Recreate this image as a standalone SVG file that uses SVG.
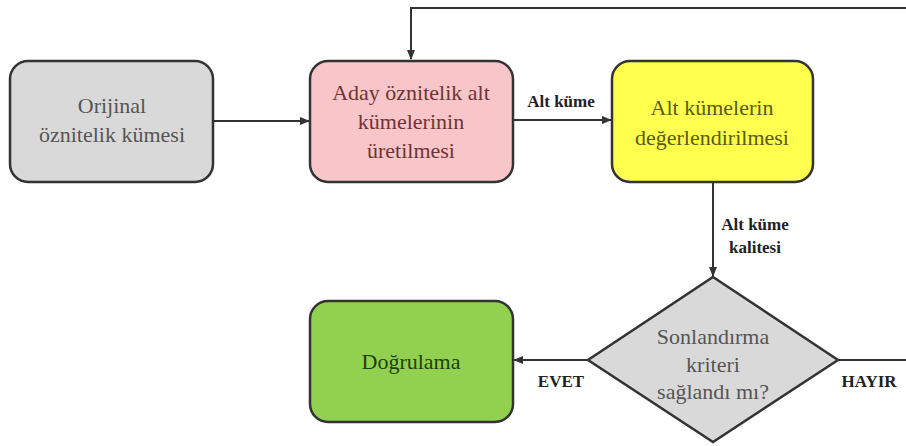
<svg xmlns="http://www.w3.org/2000/svg" width="906" height="446" viewBox="0 0 906 446">
<style>
.box{stroke:#333;stroke-width:2.5}
.t{font-family:'Liberation Serif','Times New Roman','DejaVu Serif',serif;font-size:22px;text-anchor:middle}
.lbl{font-family:'Liberation Serif','Times New Roman','DejaVu Serif',serif;font-size:17px;font-weight:bold;fill:#222;text-anchor:middle}
.c{fill:none;stroke:#333;stroke-width:2}
</style>
<defs>
<marker id="ah" viewBox="0 0 10 10" refX="9" refY="5" markerWidth="5" markerHeight="5" orient="auto">
<path d="M0,1 L10,5 L0,9 z" fill="#333"/>
</marker>
</defs>
<rect width="906" height="446" fill="#fff"/>
<g id="connectors">
<path class="c" d="M213,121 H309" marker-end="url(#ah)"/>
<path class="c" d="M513,120 H611" marker-end="url(#ah)"/>
<path class="c" d="M713,182 V276" marker-end="url(#ah)"/>
<path class="c" d="M588,360 H514" marker-end="url(#ah)"/>
<path class="c" d="M838,360 H912 V8 H411 V59" marker-end="url(#ah)"/>
<text class="lbl" x="561" y="107">Alt küme</text>
<text class="lbl" x="755" y="230">Alt küme</text>
<text class="lbl" x="755" y="253">kalitesi</text>
<text class="lbl" x="561" y="387">EVET</text>
<text class="lbl" x="869" y="387">HAYIR</text>
</g>
<g id="n1">
<rect class="box" x="10" y="61" width="203" height="121" rx="18" fill="#d9d9d9"/>
<text class="t" x="112" y="113" fill="#555">Orijinal</text>
<text class="t" x="112" y="142" fill="#555">öznitelik kümesi</text>
</g>
<g id="n2">
<rect class="box" x="310" y="61" width="203" height="121" rx="18" fill="#f8c6c8"/>
<text class="t" x="411" y="100" fill="#6e3434">Aday öznitelik alt</text>
<text class="t" x="411" y="129" fill="#6e3434">kümelerinin</text>
<text class="t" x="411" y="158" fill="#6e3434">üretilmesi</text>
</g>
<g id="n3">
<rect class="box" x="612" y="61" width="201" height="121" rx="18" fill="#ffff4d"/>
<text class="t" x="712" y="115" fill="#5a5a10">Alt kümelerin</text>
<text class="t" x="712" y="145" fill="#5a5a10">değerlendirilmesi</text>
</g>
<g id="n4">
<polygon class="box" points="713,277 838,360 713,442 588,360" fill="#d9d9d9"/>
<text class="t" x="713" y="344" fill="#555">Sonlandırma</text>
<text class="t" x="713" y="372" fill="#555">kriteri</text>
<text class="t" x="713" y="399" fill="#555">sağlandı mı?</text>
</g>
<g id="n5">
<rect class="box" x="310" y="301" width="203" height="121" rx="18" fill="#92d050"/>
<text class="t" x="411" y="369" fill="#1f3f12">Doğrulama</text>
</g>
</svg>
